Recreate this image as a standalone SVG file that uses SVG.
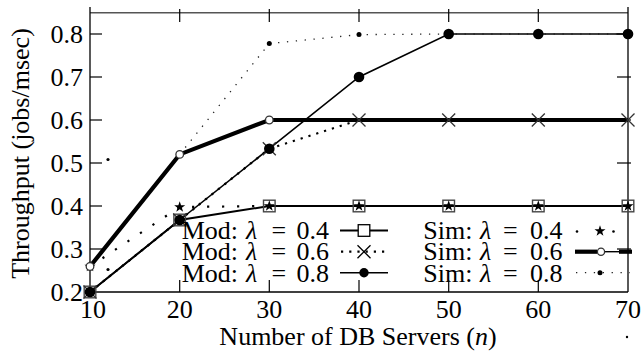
<svg xmlns="http://www.w3.org/2000/svg" xmlns:xlink="http://www.w3.org/1999/xlink" width="644" height="353" viewBox="0 0 644 353">
<style>
.t{font-family:'Liberation Serif','Times New Roman','DejaVu Serif',serif;font-size:26px;fill:#000}
.ax{stroke:#000;stroke-width:1.3;fill:none}
.tk{stroke:#000;stroke-width:1.2}
.m04{fill:none;stroke:#000;stroke-width:2}
.m06{fill:none;stroke:#000;stroke-width:2.2;stroke-dasharray:2.2 6}
.m08{fill:none;stroke:#000;stroke-width:1.6}
.s04{fill:none;stroke:#000;stroke-width:2.2;stroke-dasharray:2.2 12.8}
.s06{fill:none;stroke:#000;stroke-width:4.2}
.s08{fill:none;stroke:#222;stroke-width:1.3;stroke-dasharray:1.3 7.6}
.sq{fill:none;stroke:#444;stroke-width:1.4}
.xm{fill:none;stroke:#333;stroke-width:1.3}
.fc{fill:#000}
.oc{fill:#fff;stroke:#333;stroke-width:1.3}
.st{fill:#000}
</style>
<defs>
<rect id="sq" x="-5.8" y="-5.8" width="11.6" height="11.6"/>
<path id="xm" d="M-6.5,-6.5L6.5,6.5M-6.5,6.5L6.5,-6.5"/>
<path id="star" d="M0,-5.8L1.35,-1.86L5.52,-1.79L2.19,0.71L3.41,4.69L0,2.3L-3.41,4.69L-2.19,0.71L-5.52,-1.79L-1.35,-1.86Z"/>
</defs>
<rect width="644" height="353" fill="#fff"/>
<g id="axes">
<line x1="90" y1="12.7" x2="628" y2="12.7" stroke="#555" stroke-width="1.5"/>
<line class="ax" x1="90" y1="7" x2="90" y2="292"/>
<line class="ax" x1="628" y1="7" x2="628" y2="292"/>
<line class="ax" x1="90" y1="292" x2="628" y2="292"/>
<g class="tk">
<line x1="90" y1="249" x2="102" y2="249"/><line x1="90" y1="206" x2="102" y2="206"/><line x1="90" y1="163" x2="102" y2="163"/><line x1="90" y1="120" x2="102" y2="120"/><line x1="90" y1="77" x2="102" y2="77"/><line x1="90" y1="34" x2="102" y2="34"/>
<line x1="617" y1="249" x2="631" y2="249"/><line x1="617" y1="206" x2="631" y2="206"/><line x1="617" y1="163" x2="631" y2="163"/><line x1="617" y1="120" x2="631" y2="120"/><line x1="617" y1="77" x2="631" y2="77"/><line x1="617" y1="34" x2="631" y2="34"/>
<line x1="179.7" y1="280" x2="179.7" y2="292"/><line x1="269.3" y1="280" x2="269.3" y2="292"/><line x1="359" y1="280" x2="359" y2="292"/><line x1="448.7" y1="280" x2="448.7" y2="292"/><line x1="538.3" y1="280" x2="538.3" y2="292"/>
<line x1="179.7" y1="9" x2="179.7" y2="22"/><line x1="269.3" y1="9" x2="269.3" y2="22"/><line x1="359" y1="9" x2="359" y2="22"/><line x1="448.7" y1="9" x2="448.7" y2="22"/><line x1="538.3" y1="9" x2="538.3" y2="22"/>
</g>
<g class="t" font-family="'Liberation Serif','Times New Roman','DejaVu Serif',serif" font-size="26" text-anchor="end">
<text x="83" y="300.5">0.2</text><text x="83" y="257.5">0.3</text><text x="83" y="214.5">0.4</text><text x="83" y="171.5">0.5</text><text x="83" y="128.5">0.6</text><text x="83" y="85.5">0.7</text><text x="83" y="42.5">0.8</text>
</g>
<g class="t" font-family="'Liberation Serif','Times New Roman','DejaVu Serif',serif" font-size="26" text-anchor="middle">
<text x="93" y="318">10</text><text x="179.7" y="318">20</text><text x="269.3" y="318">30</text><text x="359" y="318">40</text><text x="448.7" y="318">50</text><text x="538.3" y="318">60</text><text x="628" y="318">70</text>
<text x="358" y="345">Number of DB Servers (<tspan font-style="italic">n</tspan>)</text>
<text transform="translate(29,153.5) rotate(-90)">Throughput (jobs/msec)</text>
</g>
</g>
<g id="connectors">
<polyline id="mod04-line" class="m04" points="90,292 179.7,220 269.3,206 359,206 448.7,206 538.3,206 628,206"/>
<polyline id="mod06-line" class="m06" points="90,292 179.7,220 269.3,148.7 359,120 448.7,120 538.3,120 628,120"/>
<polyline id="mod08-line" class="m08" points="90,292 179.7,220 269.3,148.7 359,77 448.7,34 538.3,34 628,34"/>
<polyline id="sim04-line" class="s04" points="90,266.5 179.7,207 269.3,206 359,206 448.7,206 538.3,206 628,206"/>
<polyline id="sim06-line" class="s06" points="90,266.5 179.7,154.4 269.3,120 359,120 448.7,120 538.3,120 628,120"/>
<polyline id="sim08-line" class="s08" points="179.7,154.4 269.3,43.6 359,34.6 448.7,34 538.3,34 628,34"/>
</g>
<g id="mod04-points" class="sq">
<use xlink:href="#sq" x="90" y="292"/><use xlink:href="#sq" x="179.7" y="220"/><use xlink:href="#sq" x="269.3" y="206"/><use xlink:href="#sq" x="359" y="206"/><use xlink:href="#sq" x="448.7" y="206"/><use xlink:href="#sq" x="538.3" y="206"/><use xlink:href="#sq" x="628" y="206"/>
</g>
<g id="mod06-points" class="xm">
<use xlink:href="#xm" x="90" y="292"/><use xlink:href="#xm" x="179.7" y="220"/><use xlink:href="#xm" x="269.3" y="148.7"/><use xlink:href="#xm" x="359" y="120"/><use xlink:href="#xm" x="448.7" y="120"/><use xlink:href="#xm" x="538.3" y="120"/><use xlink:href="#xm" x="628" y="120"/>
</g>
<g id="mod08-points" class="fc">
<circle cx="90" cy="292" r="5.3"/><circle cx="179.7" cy="220" r="5.3"/><circle cx="269.3" cy="148.7" r="5.3"/><circle cx="359" cy="77" r="5.3"/><circle cx="448.7" cy="34" r="5.3"/><circle cx="538.3" cy="34" r="5.3"/><circle cx="628" cy="34" r="5.3"/>
</g>
<g id="sim04-points" class="st">
<use xlink:href="#star" x="90" y="266.5"/><use xlink:href="#star" x="179.7" y="207"/><use xlink:href="#star" x="269.3" y="206"/><use xlink:href="#star" x="359" y="206"/><use xlink:href="#star" x="448.7" y="206"/><use xlink:href="#star" x="538.3" y="206"/><use xlink:href="#star" x="628" y="206"/>
</g>
<g id="sim06-points" class="oc">
<circle cx="90" cy="266.5" r="3.8"/><circle cx="179.7" cy="154.4" r="3.8"/><circle cx="269.3" cy="120" r="3.8"/>
</g>
<g id="sim08-points" class="fc">
<circle cx="269.3" cy="43.6" r="2.5"/><circle cx="359" cy="34.6" r="2.5"/><circle cx="108" cy="159.5" r="1.6"/><circle cx="108" cy="269.5" r="1.6"/><circle cx="627" cy="337" r="1.2"/>
</g>
<g id="legend">
<g class="t" font-family="'Liberation Serif','Times New Roman','DejaVu Serif',serif" font-size="26">
<text x="181.7" y="238.5">Mod:<tspan x="246" font-style="italic">λ</tspan><tspan x="271.5">=</tspan><tspan x="296.5">0.4</tspan></text>
<text x="181.7" y="260">Mod:<tspan x="246" font-style="italic">λ</tspan><tspan x="271.5">=</tspan><tspan x="296.5">0.6</tspan></text>
<text x="181.7" y="281.5">Mod:<tspan x="246" font-style="italic">λ</tspan><tspan x="271.5">=</tspan><tspan x="296.5">0.8</tspan></text>
<text x="423.3" y="238.5">Sim:<tspan x="480" font-style="italic">λ</tspan><tspan x="503">=</tspan><tspan x="530">0.4</tspan></text>
<text x="423.3" y="260">Sim:<tspan x="480" font-style="italic">λ</tspan><tspan x="503">=</tspan><tspan x="530">0.6</tspan></text>
<text x="423.3" y="281.5">Sim:<tspan x="480" font-style="italic">λ</tspan><tspan x="503">=</tspan><tspan x="530">0.8</tspan></text>
</g>
<line class="m04" x1="340" y1="230.5" x2="388" y2="230.5"/>
<use xlink:href="#sq" x="364" y="230.5" fill="#fff" stroke="#000" stroke-width="1.3"/>
<line class="m06" x1="341" y1="251.7" x2="388" y2="251.7"/>
<use xlink:href="#xm" x="364" y="251.7" fill="none" stroke="#000" stroke-width="1.3"/>
<line class="m08" x1="340" y1="272.7" x2="388" y2="272.7"/>
<circle class="fc" cx="364" cy="272.7" r="4.7"/>
<circle class="fc" cx="577" cy="231.5" r="1.3"/><circle class="fc" cx="613.5" cy="231.5" r="1.3"/>
<use xlink:href="#star" x="600" y="231" fill="#000"/>
<line class="s06" x1="575" y1="251.7" x2="597" y2="251.7"/>
<line stroke="#000" stroke-width="1.4" x1="605" y1="251.7" x2="619" y2="251.7"/>
<line class="s06" x1="619" y1="251.7" x2="632" y2="251.7"/>
<circle class="oc" cx="601" cy="251.7" r="3.6"/>
<line class="s08" x1="576" y1="272.7" x2="630" y2="272.7"/>
<circle class="fc" cx="600" cy="272.7" r="2.5"/>
</g>
</svg>
